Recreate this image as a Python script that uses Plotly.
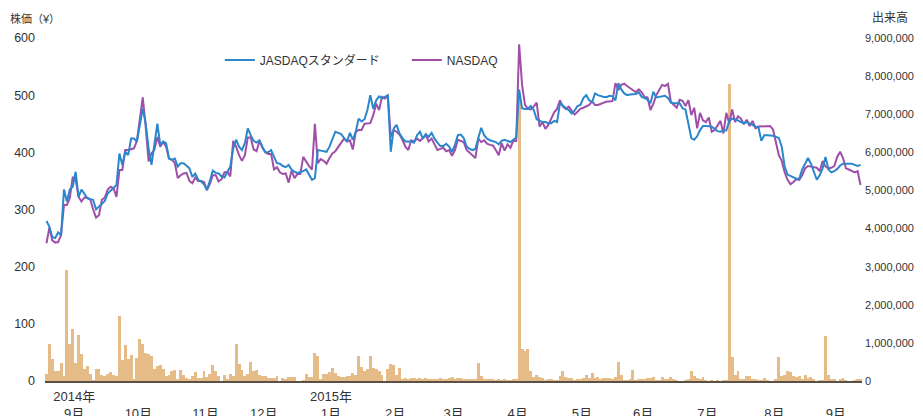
import plotly.graph_objects as go
import pandas as pd

start_date = "2014-08-18"
end_date = "2015-09-11"

jasdaq = [
    280, 270, 252, 250, 260, 255, 335, 314, 335, 340,
    366, 322, 335, 328, 320, 318, 317, 300, 305, 311,
    315, 328, 333, 337, 343, 398, 378, 401, 395, 424,
    424, 419, 451, 477, 451, 407, 378, 413, 450, 413,
    419, 416, 389, 387, 389, 375, 381, 381, 376, 372,
    357, 363, 352, 349, 344, 334, 350, 368, 364, 363,
    358, 356, 366, 375, 407, 422, 410, 404, 416, 442,
    430, 420, 417, 421, 410, 400, 400, 404, 392, 381,
    380, 376, 374, 378, 370, 366, 364, 365, 367, 370,
    360, 352, 355, 404, 403, 402, 401, 410, 422, 436,
    434, 432, 425, 419, 434, 422, 436, 459, 454, 458,
    474, 500, 476, 491, 498, 494, 497, 500, 401, 442,
    448, 433, 425, 419, 419, 419, 417, 430, 436, 424,
    432, 427, 434, 424, 417, 411, 411, 415, 410, 401,
    413, 430, 431, 425, 410, 406, 404, 406, 425, 443,
    430, 424, 421, 420, 418, 414, 420, 422, 420, 418,
    422, 426, 510, 477, 476, 476, 481, 474, 458, 455,
    453, 453, 451, 451, 455, 453, 486, 482, 477, 474,
    468, 473, 481, 483, 495, 500, 491, 488, 503, 500,
    498, 497, 497, 499, 498, 491, 521, 510, 503, 500,
    501, 501, 502, 505, 497, 495, 492, 486, 506, 496,
    497, 498, 499, 495, 487, 486, 486, 486, 477, 475,
    450, 425, 422, 428, 439, 446, 446, 446, 445, 441,
    437, 436, 438, 438, 455, 459, 458, 456, 453, 451,
    453, 451, 448, 445, 444, 420, 430, 430, 430, 429,
    427, 425, 410, 375, 361, 359, 356, 354, 354, 370,
    380, 390, 380, 367, 352, 360, 372, 392, 370, 365,
    367, 371, 377, 380, 380, 380, 380, 378, 376, 378,
]

nasdaq = [
    241, 268, 246, 242, 243, 255, 308, 308, 320, 357,
    352, 322, 314, 321, 320, 318, 300, 286, 290, 317,
    321, 335, 340, 337, 322, 369, 369, 404, 404, 405,
    407, 420, 462, 496, 445, 384, 398, 405, 427, 410,
    418, 410, 389, 387, 381, 355, 360, 363, 364, 350,
    346, 356, 350, 350, 348, 334, 345, 360, 360, 349,
    353, 365, 366, 358, 420, 410, 395, 385, 395, 426,
    426, 405, 402, 420, 408, 400, 397, 397, 370, 374,
    365, 362, 363, 347, 368, 355, 362, 362, 392, 383,
    376, 370, 450, 381, 388, 385, 380, 390, 398, 402,
    410, 416, 424, 419, 421, 405, 436, 439, 439, 450,
    451, 451, 465, 485, 474, 497, 494, 498, 427, 439,
    436, 431, 422, 410, 404, 421, 419, 424, 420, 425,
    430, 419, 424, 414, 404, 406, 408, 402, 404, 394,
    404, 422, 420, 418, 404, 399, 395, 390, 424, 418,
    421, 415, 413, 412, 404, 395, 416, 403, 414, 408,
    420, 420, 589, 518, 483, 476, 475, 480, 487, 445,
    453, 441, 448, 458, 470, 476, 491, 480, 476, 480,
    472, 466, 471, 476, 478, 480, 483, 489, 483, 483,
    485, 487, 489, 489, 490, 521, 509, 518, 520, 516,
    512, 509, 505, 510, 505, 497, 496, 474, 485, 500,
    509, 518, 516, 520, 488, 482, 478, 492, 490, 481,
    491, 465, 478, 442, 469, 456, 453, 461, 436, 439,
    448, 455, 433, 469, 451, 475, 453, 463, 459, 449,
    457, 446, 455, 442, 445, 445, 446, 446, 446, 440,
    420, 395, 385, 365, 352, 344, 348, 353, 352, 360,
    372, 376, 375, 374, 373, 367, 385, 375, 372, 373,
    376, 392, 401, 390, 372, 370, 368, 365, 367, 343,
]

# volume in thousands of shares
volume_k = [
    180, 970, 590, 260, 250, 470, 130, 2910, 970, 1360,
    470, 1210, 710, 310, 390, 180, 20, 310, 310, 160,
    130, 180, 240, 160, 130, 1710, 550, 940, 580, 680,
    30, 600, 1100, 970, 730, 710, 660, 310, 390, 420,
    310, 130, 160, 260, 290, 50, 290, 160, 80, 50,
    130, 240, 80, 80, 260, 100, 180, 420, 260, 130,
    0, 160, 50, 180, 130, 970, 450, 290, 130, 180,
    500, 260, 290, 160, 130, 120, 90, 90, 90, 140,
    0, 90, 60, 110, 110, 110, 0, 0, 20, 190,
    110, 110, 740, 660, 30, 190, 190, 240, 350, 220,
    140, 110, 110, 140, 140, 220, 170, 660, 380, 270,
    320, 660, 350, 320, 270, 170, 0, 320, 450, 430,
    170, 350, 60, 90, 60, 90, 90, 60, 90, 30,
    90, 30, 60, 60, 30, 90, 30, 30, 90, 110,
    30, 90, 90, 60, 60, 60, 30, 60, 480, 140,
    60, 30, 30, 30, 10, 30, 10, 30, 10, 10,
    30, 30, 7470, 830, 790, 830, 250, 100, 150, 100,
    70, 20, 40, 40, 20, 20, 120, 250, 100, 70,
    70, 20, 40, 40, 70, 150, 70, 200, 70, 100,
    40, 70, 70, 70, 40, 100, 490, 170, 20, 20,
    40, 280, 20, 40, 40, 40, 70, 70, 100, 20,
    20, 100, 40, 40, 100, 40, 20, 0, 0, 20,
    40, 250, 120, 70, 40, 100, 20, 0, 20, 0,
    20, 0, 20, 20, 7800, 620, 170, 250, 40, 40,
    120, 120, 40, 40, 20, 20, 70, 20, 0, 0,
    40, 620, 120, 150, 250, 230, 120, 100, 120, 40,
    170, 70, 100, 40, 0, 20, 20, 1170, 170, 40,
    40, 0, 40, 70, 20, 0, 0, 20, 40, 40,
]

month_ticks = ["2014-09-01", "2014-10-01", "2014-11-03", "2014-12-01",
               "2015-01-01", "2015-02-02", "2015-03-02", "2015-04-01",
               "2015-05-01", "2015-06-01", "2015-07-01", "2015-08-03",
               "2015-09-01"]
month_labels = ["2014年<br>9月", " <br>10月", " <br>11月", " <br>12月",
                "2015年<br>1月", " <br>2月", " <br>3月", " <br>4月",
                " <br>5月", " <br>6月", " <br>7月", " <br>8月", " <br>9月"]

price_ticks = [0, 100, 200, 300, 400, 500, 600]
volume_ticks = [0, 1000000, 2000000, 3000000, 4000000, 5000000,
                6000000, 7000000, 8000000, 9000000]

dates = pd.bdate_range(start_date, end_date)
n = min(len(dates), len(jasdaq), len(nasdaq), len(volume_k))
x = dates[:n] + pd.Timedelta(hours=12)

FONT = "Liberation Sans, Arial, Helvetica, Noto Sans CJK JP, sans-serif"

fig = go.Figure()
fig.add_trace(go.Bar(
    x=x, y=[v * 1000 for v in volume_k[:n]], yaxis="y",
    marker=dict(color="#e5bb87", line=dict(width=0)),
    showlegend=False, name="出来高"))
fig.add_trace(go.Scatter(
    x=x, y=nasdaq[:n], yaxis="y2", name="NASDAQ", mode="lines",
    line=dict(color="#a04fa9", width=2), legendrank=2))
fig.add_trace(go.Scatter(
    x=x, y=jasdaq[:n], yaxis="y2", name="JASDAQスタンダード", mode="lines",
    line=dict(color="#2b86cb", width=2), legendrank=1))

# the page body has an 8px margin, so the figure is drawn 8px in from the corner
fig.update_layout(
    width=915, height=408,
    margin=dict(l=37, r=61, t=30, b=35),
    plot_bgcolor="white", paper_bgcolor="white",
    font=dict(family=FONT, size=12, color="#333333"),
    bargap=0,
    xaxis=dict(
        type="date",
        range=["2014-08-18", "2015-09-12"],
        rangebreaks=[dict(bounds=["sat", "mon"])],
        tickvals=month_ticks, ticktext=month_labels,
        showgrid=False, zeroline=False,
        showline=True, linecolor="#5a5048", linewidth=1.5,
        ticks="", tickfont=dict(size=13),
        automargin=False, ticklabelstandoff=3,
    ),
    yaxis=dict(
        side="right", range=[0, 9000000],
        tickvals=volume_ticks, tickformat=",d",
        showgrid=False, zeroline=False, ticks="",
        ticklabelstandoff=2, automargin=False,
        tickfont=dict(size=11),
    ),
    yaxis2=dict(
        side="left", overlaying="y", range=[0, 600],
        tickvals=price_ticks,
        showgrid=False, zeroline=False, ticks="",
        ticklabelstandoff=9, automargin=False,
        tickfont=dict(size=12.5),
    ),
    legend=dict(
        orientation="h", x=0.214, y=0.936,
        xanchor="left", yanchor="middle",
        entrywidth=142, font=dict(size=12, color="#333333"),
        bgcolor="rgba(0,0,0,0)",
    ),
    annotations=[
        dict(text="株価（¥）", xref="paper", yref="paper",
             x=-0.0453, y=1.058, xanchor="left", yanchor="middle",
             showarrow=False, font=dict(size=11, color="#333333")),
        dict(text="出来高", xref="paper", yref="paper",
             x=1.0098, y=1.058, xanchor="left", yanchor="middle",
             showarrow=False, font=dict(size=12, color="#333333")),
    ],
)

fig.write_html("out.html")
